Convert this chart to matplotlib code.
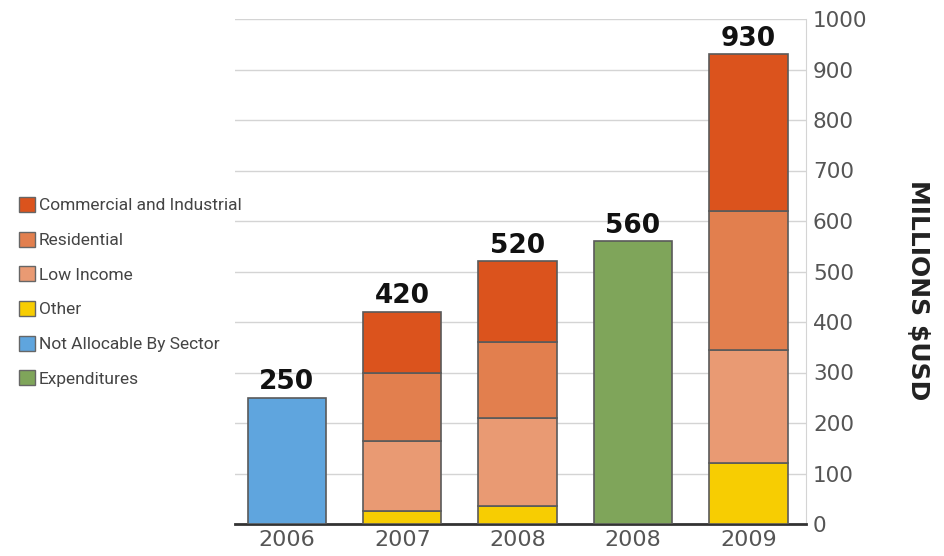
import matplotlib.pyplot as plt
from matplotlib.patches import Patch
import numpy as np

# sector spending by year, millions of USD
years = ['2006', '2007', '2008', '2008', '2009']
commercial = [0, 120, 160, 0, 310]
residential = [0, 135, 150, 0, 275]
low_income = [0, 140, 175, 0, 225]
other = [0, 25, 35, 0, 120]
not_allocable = [250, 0, 0, 0, 0]
expenditures = [0, 0, 0, 560, 0]
totals = [250, 420, 520, 560, 930]

series = [
    ('Other', other, '#f7cd02'),
    ('Low Income', low_income, '#e99a73'),
    ('Residential', residential, '#e27f4e'),
    ('Commercial and Industrial', commercial, '#db531d'),
    ('Not Allocable By Sector', not_allocable, '#5fa5de'),
    ('Expenditures', expenditures, '#7fa55a'),
]

fig = plt.figure(figsize=(9.44, 5.56), dpi=100)
ax = fig.add_axes([235 / 944, 32 / 556, 571 / 944, 505 / 556])

x = np.arange(len(years))
width = 0.68
bottom = np.zeros(len(years))
for name, vals, col in series:
    vals = np.array(vals, dtype=float)
    m = vals > 0
    ax.bar(x[m], vals[m], width, bottom=bottom[m], color=col,
           edgecolor='#5a5a5a', linewidth=1.2, zorder=3)
    bottom += vals

for xi, t in zip(x, totals):
    ax.text(xi, t + 5, str(t), ha='center', va='bottom', fontsize=19,
            fontweight='bold', color='#111111', zorder=4)

ax.set_xlim(-0.45, 4.5)
ax.set_ylim(0, 1000)
ax.set_yticks(np.arange(0, 1001, 100))
ax.yaxis.tick_right()
ax.tick_params(axis='y', length=0, pad=5, labelsize=15.5, labelcolor='#555555')
ax.set_xticks(x)
ax.set_xticklabels(years)
ax.tick_params(axis='x', length=0, pad=4, labelsize=16, labelcolor='#555555')

ax.grid(axis='y', color='#d4d4d4', linewidth=1)
ax.set_axisbelow(True)
ax.spines['left'].set_visible(False)
ax.spines['top'].set_visible(False)
ax.spines['right'].set_color('#d4d4d4')
ax.spines['bottom'].set_color('#333333')
ax.spines['bottom'].set_linewidth(2)

fig.text(0.972, 0.478, 'MILLIONS $USD', rotation=-90, ha='center', va='center',
         fontsize=18, fontweight='bold', color='#222222')

legend_order = ['Commercial and Industrial', 'Residential', 'Low Income',
                'Other', 'Not Allocable By Sector', 'Expenditures']
colors = {name: col for name, _, col in series}
handles = [Patch(facecolor=colors[n], edgecolor='#666666', label=n)
           for n in legend_order]
leg = fig.legend(handles=handles, loc='upper left',
                 bbox_to_anchor=(12 / 944, 1 - 190 / 556), frameon=False,
                 handlelength=0.9, handleheight=0.95, handletextpad=0.25,
                 labelspacing=1.05, borderaxespad=0,
                 prop={'family': ['Roboto', 'DejaVu Sans'], 'size': 12.5})
for t in leg.get_texts():
    t.set_color('#444444')

fig.savefig('out.png', dpi=100)
